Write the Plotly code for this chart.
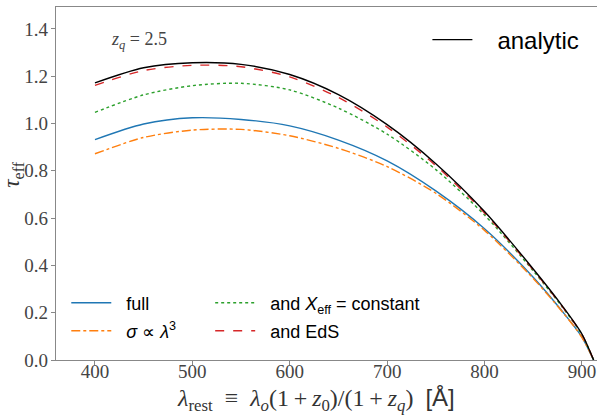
import plotly.graph_objects as go

wavelength = [400, 450, 500, 550, 600, 650, 700, 750, 800, 850, 880, 900, 912]
tau_analytic = [1.172, 1.236, 1.257, 1.250, 1.207, 1.122, 0.995, 0.830, 0.628, 0.385, 0.228, 0.110, 0.0]
tau_eds = [1.161, 1.224, 1.246, 1.240, 1.197, 1.110, 0.985, 0.822, 0.622, 0.381, 0.225, 0.108, 0.0]
tau_xeff = [1.047, 1.121, 1.160, 1.170, 1.142, 1.065, 0.955, 0.805, 0.613, 0.377, 0.223, 0.107, 0.0]
tau_full = [0.932, 0.998, 1.024, 1.017, 0.990, 0.930, 0.842, 0.715, 0.555, 0.350, 0.205, 0.097, 0.0]
tau_sigma = [0.872, 0.941, 0.972, 0.975, 0.948, 0.895, 0.818, 0.705, 0.548, 0.345, 0.203, 0.096, 0.0]

x_ticks = [400, 500, 600, 700, 800, 900]
y_ticks = [0.0, 0.2, 0.4, 0.6, 0.8, 1.0, 1.2, 1.4]

NB = "\u00a0\u00a0"
fig = go.Figure()

def add(y, name, color, dash, legend):
    fig.add_trace(go.Scatter(
        x=wavelength, y=y, mode="lines", name=name, legend=legend,
        line=dict(color=color, width=1.4, dash=dash, shape="spline", smoothing=0.8),
    ))

add(tau_full, NB + "full", "#1f77b4", "solid", "legend2")
add(tau_sigma, NB + "<i>σ</i> ∝ <i>λ</i><sup>3</sup>", "#ff7f0e", "dashdot", "legend3")
add(tau_xeff, NB + "and <i>X</i><sub>eff</sub> = constant", "#2ca02c", "dot", "legend4")
add(tau_eds, NB + "and EdS", "#d62728", "dash", "legend5")
add(tau_analytic, NB + "\u00a0analytic", "black", "solid", "legend")

serif = "Liberation Serif"
sans = "Liberation Sans"
axis_col = "#888888"

def leg(x, y, size):
    return dict(x=x, y=y, xanchor="left", yanchor="middle",
                font=dict(family=sans, size=size, color="black"),
                bgcolor="rgba(0,0,0,0)", itemwidth=40)

sp = "\u2002"
th = "\u2009"
xtitle = ("<i>λ</i><sub>rest</sub>" + sp + "≡" + sp + "<i>λ</i><sub><i>o</i></sub>(1" + th + "+" + th +
          "<i>z</i><sub>0</sub>)/(1" + th + "+" + th + "<i>z</i><sub><i>q</i></sub>)" + sp +
          "<span style=\"font-family:Liberation Sans\">[Å]</span>")

fig.update_layout(
    width=597, height=416,
    margin=dict(l=56, r=0, t=7, b=56, autoexpand=False),
    paper_bgcolor="white", plot_bgcolor="white",
    showlegend=True,
    legend=leg(0.6865, 0.9065, 24),
    legend2=leg(0.019, 0.1615, 18),
    legend3=leg(0.019, 0.082, 18),
    legend4=leg(0.285, 0.1615, 18),
    legend5=leg(0.285, 0.082, 18),
    xaxis=dict(range=[360, 915.5], tickvals=x_ticks, showgrid=False, zeroline=False,
               showline=True, linecolor=axis_col, linewidth=1.2, mirror=True,
               ticks="outside", ticklen=4, tickcolor=axis_col, automargin=False,
               tickfont=dict(family=serif, size=19, color="#444444")),
    yaxis=dict(range=[0, 1.4926], tickvals=y_ticks, tickformat=".1f", showgrid=False, zeroline=False,
               showline=True, linecolor=axis_col, linewidth=1.2, mirror=False,
               ticks="outside", ticklen=4, tickcolor=axis_col, automargin=False,
               tickfont=dict(family=serif, size=19, color="#444444")),
    annotations=[
        dict(text="<i>z</i><sub><i>q</i></sub> = 2.5", x=0.098, y=0.905, xref="paper", yref="paper",
             xanchor="left", yanchor="middle", showarrow=False,
             font=dict(family=serif, size=18, color="#444444")),
        dict(text=xtitle, x=0.4806, y=-0.112, xref="paper", yref="paper",
             xanchor="center", yanchor="middle", showarrow=False,
             font=dict(family=serif, size=24, color="#333333")),
        dict(text="<i>τ</i><sub>eff</sub>", x=-0.080, y=0.524, xref="paper", yref="paper",
             xanchor="center", yanchor="middle", showarrow=False, textangle=-90,
             font=dict(family=serif, size=23, color="#333333")),
    ],
)

try:
    fig.update_xaxes(ticklabelstandoff=-10)
    fig.update_yaxes(ticklabelstandoff=-1)
except Exception:
    fig.update_xaxes(ticklen=2)

fig.write_html("out.html", config={"displayModeBar": False},
               post_script="document.body.style.margin='0';document.body.style.overflow='hidden';")
